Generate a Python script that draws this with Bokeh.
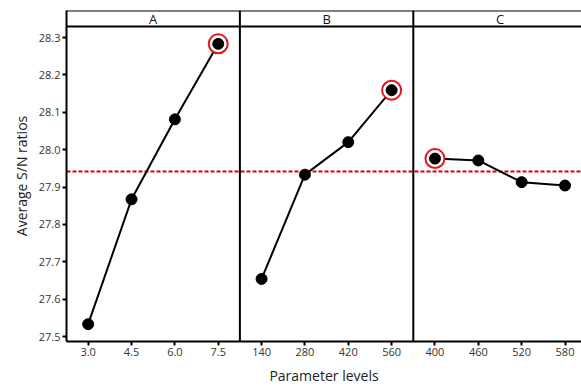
import numpy as np
from bokeh.plotting import figure
from bokeh.models import Range1d, FixedTicker, Span
from bokeh.core.properties import value
from bokeh.embed import file_html
from bokeh.resources import INLINE

# ---- data ----
factors = ["A", "B", "C"]
levels_A = ["3.0", "4.5", "6.0", "7.5"]
levels_B = ["140", "280", "420", "560"]
levels_C = ["400", "460", "520", "580"]
sn_A = [27.533, 27.867, 28.081, 28.283]
sn_B = [27.654, 27.933, 28.020, 28.159]
sn_C = [27.976, 27.971, 27.913, 27.904]
y_ticks = [27.5, 27.6, 27.7, 27.8, 27.9, 28.0, 28.1, 28.2, 28.3]

levels = [levels_A, levels_B, levels_C]
values = [sn_A, sn_B, sn_C]
grand_mean = float(np.mean(sn_A + sn_B + sn_C))

FONT = "Open Sans"
PX = 373.75  # pixels per unit on y
y_top_data = 28.3
y_header = y_top_data + 11 / PX
y_end = y_top_data + 27 / PX
y_start = 27.5 - 5 / PX

p = figure(width=581, height=387, x_range=Range1d(0.5, 12.38),
           y_range=Range1d(y_start, y_end), output_backend="svg",
           toolbar_location=None, min_border_left=66, min_border_right=0,
           min_border_top=10, min_border_bottom=46)
p.outline_line_color = None
p.grid.visible = False
p.background_fill_color = "white"

ticks = []
overrides = {}
for i, lv in enumerate(levels):
    for j, lab in enumerate(lv):
        pos = 4 * i + j + 1
        ticks.append(pos)
        overrides[pos] = lab
p.xaxis.ticker = FixedTicker(ticks=ticks)
p.xaxis.major_label_overrides = overrides
p.yaxis.ticker = FixedTicker(ticks=y_ticks)
p.yaxis.major_label_overrides = {t: f"{t:.1f}" for t in y_ticks}

for ax in (p.xaxis[0], p.yaxis[0]):
    ax.axis_line_width = 2
    ax.axis_line_color = "black"
    ax.major_tick_line_color = "black"
    ax.major_tick_line_width = 2
    ax.major_tick_out = 4
    ax.major_tick_in = 0
    ax.minor_tick_line_color = None
    ax.major_label_text_font = FONT
    ax.major_label_text_font_size = "11px"
    ax.major_label_text_color = "#333333"
    ax.axis_label_text_font = FONT
    ax.axis_label_text_font_size = "14px"
    ax.axis_label_text_font_style = "normal"
    ax.axis_label_text_color = "#222222"

p.xaxis.axis_label = "Parameter levels"
p.yaxis.axis_label = "Average S/N ratios"
p.xaxis.axis_label_standoff = 7
p.yaxis.axis_label_standoff = 5
p.xaxis.major_label_standoff = 2
p.yaxis.major_label_standoff = 2

# grand mean line
p.add_layout(Span(location=grand_mean, dimension="width", line_color="#d40000",
                  line_width=2, line_dash="4 2", level="underlay"))

# frame lines
p.add_layout(Span(location=y_end, dimension="width", line_color="black", line_width=2))
p.add_layout(Span(location=y_header, dimension="width", line_color="black", line_width=2))
for i in range(1, len(factors)):
    p.add_layout(Span(location=4 * i + 0.5, dimension="height", line_color="black", line_width=2))

# header labels
p.text(x=[4 * i + 2.5 for i in range(len(factors))],
       y=[(y_header + y_end) / 2] * len(factors), text=factors,
       text_align="center", text_baseline="middle", text_font=value(FONT),
       text_font_size="13px", text_color="#111111")

for i, vals in enumerate(values):
    xs = [4 * i + j + 1 for j in range(len(vals))]
    p.line(xs, vals, line_color="black", line_width=2)
    k = int(np.argmax(vals))
    p.scatter([xs[k]], [vals[k]], size=19, fill_color="white",
              line_color="#e8141c", line_width=2)
    p.scatter(xs, vals, size=11, fill_color="black", line_color="black")

open("out.html", "w").write(file_html(p, INLINE))
